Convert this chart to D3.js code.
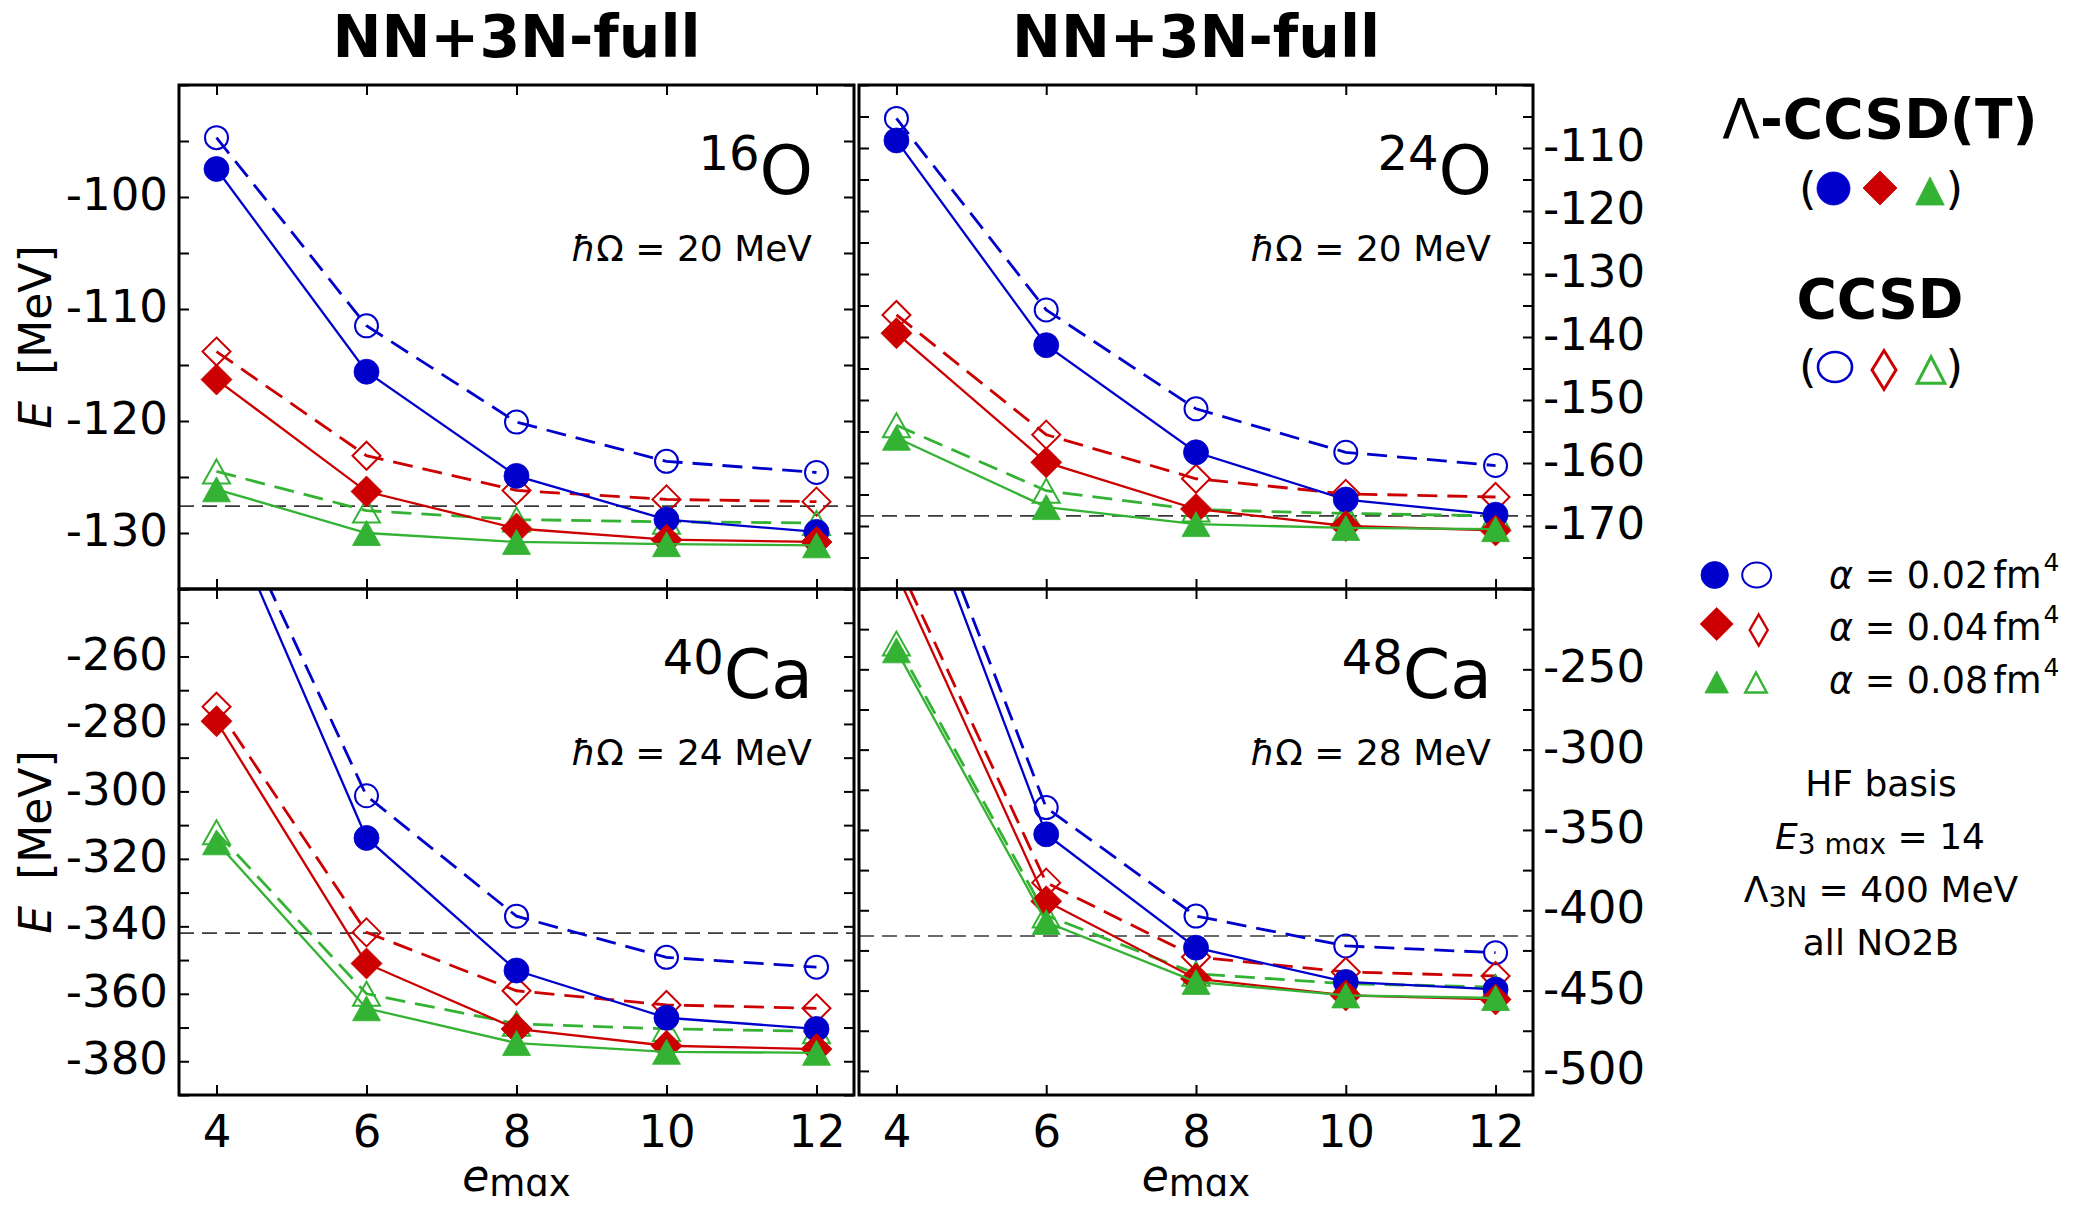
<!DOCTYPE html>
<html>
<head>
<meta charset="utf-8">
<script src="https://cdn.jsdelivr.net/npm/d3@7"></script>
<style>
  html, body { margin: 0; padding: 0; background: #fff; }
  svg { display: block; }
</style>
</head>
<body>
<svg id="chart"></svg>
<script>
// ---------------------------------------------------------------------------
// Ground-state energies E [MeV] versus e_max for three SRG flow parameters.
// "T" = Lambda-CCSD(T) (filled markers, solid lines), "C" = CCSD (open, dashed).
// ---------------------------------------------------------------------------
const emax = [4, 6, 8, 10, 12];
const xTicks = [4, 6, 8, 10, 12];

// 16O, hbar*Omega = 20 MeV
const O16_T_002 = [-97.5, -115.6, -124.9, -128.8, -129.9];
const O16_C_002 = [-94.7, -111.5, -120.1, -123.6, -124.6];
const O16_T_004 = [-116.3, -126.3, -129.6, -130.6, -130.8];
const O16_C_004 = [-113.8, -123.1, -126.2, -127.0, -127.2];
const O16_T_008 = [-126.1, -130.0, -130.8, -131.0, -131.1];
const O16_C_008 = [-124.5, -128.0, -128.8, -129.0, -129.1];
const O16_exp = -127.6;
const O16_yLabels = [-130, -120, -110, -100];

// 24O, hbar*Omega = 20 MeV
const O24_T_002 = [-108.8, -141.3, -158.3, -165.8, -168.2];
const O24_C_002 = [-105.3, -135.7, -151.4, -158.3, -160.4];
const O24_T_004 = [-139.4, -159.9, -167.3, -170.0, -170.7];
const O24_C_004 = [-136.5, -155.5, -162.5, -164.9, -165.4];
const O24_T_008 = [-156.0, -167.0, -169.7, -170.3, -170.5];
const O24_C_008 = [-154.0, -164.4, -167.4, -168.0, -168.4];
const O24_exp = -168.4;
const O24_yLabels = [-170, -160, -150, -140, -130, -120, -110];

// 40Ca, hbar*Omega = 24 MeV
const Ca40_T_002 = [-211.0, -313.8, -353.1, -367.1, -370.4];
const Ca40_C_002 = [-206.0, -301.3, -337.0, -349.2, -352.1];
const Ca40_T_004 = [-279.2, -351.0, -370.4, -375.4, -376.4];
const Ca40_C_004 = [-274.9, -341.8, -359.1, -363.3, -364.3];
const Ca40_T_008 = [-315.1, -364.3, -374.6, -377.2, -377.5];
const Ca40_C_008 = [-312.1, -360.0, -368.9, -370.4, -371.1];
const Ca40_exp = -342.0;
const Ca40_yLabels = [-380, -360, -340, -320, -300, -280, -260];

// 48Ca, hbar*Omega = 28 MeV
const Ca48_T_002 = [-105.0, -352.7, -423.3, -444.6, -449.3];
const Ca48_C_002 = [-96.0, -336.1, -403.6, -422.2, -426.4];
const Ca48_T_004 = [-190.0, -394.4, -442.6, -453.0, -455.5];
const Ca48_C_004 = [-182.0, -382.8, -429.1, -438.4, -440.9];
const Ca48_T_008 = [-238.2, -407.3, -444.6, -453.0, -454.6];
const Ca48_C_008 = [-234.0, -403.2, -439.5, -445.7, -447.8];
const Ca48_exp = -416.0;
const Ca48_yLabels = [-500, -450, -400, -350, -300, -250];

const alphaValues = ["0.02", "0.04", "0.08"];

// ---------------------------------------------------------------------------
const W = 2078, H = 1205;
const FONT = "'DejaVu Sans', 'Noto Sans', sans-serif";
const COLORS = ["#0000cc", "#cc0000", "#33b233"];

const svg = d3.select("#chart").attr("width", W).attr("height", H)
  .attr("font-family", FONT);
svg.append("rect").attr("width", W).attr("height", H).attr("fill", "#fff");

const panels = [
  { id: "p16O", mass: "16", sym: "O", hw: "20", box: [179, 854, 85, 589], dom: [-135, -90], minor: 5,
    labels: O16_yLabels, side: "left", bottom: false, exp: O16_exp,
    T: [O16_T_002, O16_T_004, O16_T_008], C: [O16_C_002, O16_C_004, O16_C_008] },
  { id: "p24O", mass: "24", sym: "O", hw: "20", box: [859, 1533, 85, 589], dom: [-180, -100], minor: 5,
    labels: O24_yLabels, side: "right", bottom: false, exp: O24_exp,
    T: [O24_T_002, O24_T_004, O24_T_008], C: [O24_C_002, O24_C_004, O24_C_008] },
  { id: "p40Ca", mass: "40", sym: "Ca", hw: "24", box: [179, 854, 589, 1095], dom: [-390, -240], minor: 10,
    labels: Ca40_yLabels, side: "left", bottom: true, exp: Ca40_exp,
    T: [Ca40_T_002, Ca40_T_004, Ca40_T_008], C: [Ca40_C_002, Ca40_C_004, Ca40_C_008] },
  { id: "p48Ca", mass: "48", sym: "Ca", hw: "28", box: [859, 1533, 589, 1095], dom: [-515, -200], minor: 25,
    labels: Ca48_yLabels, side: "right", bottom: true, exp: Ca48_exp,
    T: [Ca48_T_002, Ca48_T_004, Ca48_T_008], C: [Ca48_C_002, Ca48_C_004, Ca48_C_008] }
];

// marker shapes: 0 circle, 1 diamond, 2 triangle
function addMarker(g, kind, filled, color, cx, cy, s) {
  let el;
  if (kind === 0) {
    el = g.append("ellipse").attr("cx", cx).attr("cy", cy).attr("rx", s.rx).attr("ry", s.ry);
  } else if (kind === 1) {
    el = g.append("path").attr("transform", `translate(${cx},${cy})`)
      .attr("d", `M0,${-s.hh}L${s.hw},0L0,${s.hh}L${-s.hw},0Z`);
  } else {
    el = g.append("path").attr("transform", `translate(${cx},${cy})`)
      .attr("d", `M0,${-s.h / 2}L${s.w / 2},${s.h / 2}L${-s.w / 2},${s.h / 2}Z`);
  }
  if (filled) el.attr("fill", color).attr("stroke", color).attr("stroke-width", 0.8);
  else el.attr("fill", "none").attr("stroke", color).attr("stroke-width", s.sw || 2);
  return el;
}

const plotSizes = {
  filled: [{ rx: 12.5, ry: 12.5 }, { hw: 15.5, hh: 15.5 }, { w: 28, h: 25 }],
  open: [{ rx: 11.5, ry: 11.5, sw: 2 }, { hw: 14, hh: 14, sw: 2 }, { w: 27, h: 24, sw: 2 }]
};

const defs = svg.append("defs");

panels.forEach(p => {
  const [x0, x1, y0, y1] = p.box;
  const x = d3.scaleLinear().domain([3.5, 12.5]).range([x0, x1]);
  const y = d3.scaleLinear().domain(p.dom).range([y1, y0]);

  defs.append("clipPath").attr("id", "clip-" + p.id)
    .append("rect").attr("x", x0).attr("y", y0).attr("width", x1 - x0).attr("height", y1 - y0);

  const plot = svg.append("g").attr("clip-path", `url(#clip-${p.id})`);

  // reference energy
  plot.append("line")
    .attr("x1", x0).attr("x2", x1).attr("y1", y(p.exp)).attr("y2", y(p.exp))
    .attr("stroke", "#3a3a3a").attr("stroke-width", 1.6).attr("stroke-dasharray", "15,8");

  const line = d3.line().x((d, i) => x(emax[i])).y(d => y(d));

  // CCSD: dashed lines with open markers
  p.C.forEach((vals, k) => {
    plot.append("path").datum(vals).attr("d", line).attr("fill", "none")
      .attr("stroke", COLORS[k]).attr("stroke-width", 2.8).attr("stroke-dasharray", "20,10");
    vals.forEach((v, i) => addMarker(plot, k, false, COLORS[k], x(emax[i]), y(v), plotSizes.open[k]));
  });
  // Lambda-CCSD(T): solid lines with filled markers
  p.T.forEach((vals, k) => {
    plot.append("path").datum(vals).attr("d", line).attr("fill", "none")
      .attr("stroke", COLORS[k]).attr("stroke-width", 2.3);
    vals.forEach((v, i) => addMarker(plot, k, true, COLORS[k], x(emax[i]), y(v), plotSizes.filled[k]));
  });

  // inward ticks on all four sides
  const minorTicks = d3.range(Math.ceil(p.dom[0] / p.minor) * p.minor, p.dom[1] + 1e-9, p.minor);
  const tickStyle = s => {
    s.attr("font-size", null).attr("font-family", null);
    s.select(".domain").remove();
    s.selectAll(".tick line").attr("stroke", "#000").attr("stroke-width", 2);
  };
  svg.append("g").attr("transform", `translate(${x0},0)`)
    .call(d3.axisLeft(y).tickValues(minorTicks).tickSize(-10).tickFormat("")).call(tickStyle);
  svg.append("g").attr("transform", `translate(${x1},0)`)
    .call(d3.axisRight(y).tickValues(minorTicks).tickSize(-10).tickFormat("")).call(tickStyle);
  svg.append("g").attr("transform", `translate(0,${y1})`)
    .call(d3.axisBottom(x).tickValues(xTicks).tickSize(-10).tickFormat("")).call(tickStyle);
  svg.append("g").attr("transform", `translate(0,${y0})`)
    .call(d3.axisTop(x).tickValues(xTicks).tickSize(-10).tickFormat("")).call(tickStyle);

  // y tick labels
  const labAxis = p.side === "left"
    ? d3.axisLeft(y).tickPadding(11)
    : d3.axisRight(y).tickPadding(10);
  const labG = svg.append("g").attr("transform", `translate(${p.side === "left" ? x0 : x1},0)`)
    .call(labAxis.tickValues(p.labels).tickSize(0).tickFormat(d => String(d)));
  labG.attr("font-size", null).attr("font-family", null);
  labG.select(".domain").remove();
  labG.selectAll(".tick line").remove();
  labG.selectAll("text").attr("font-size", 45).attr("fill", "#000").attr("dy", "0.28em");

  // x tick labels and axis title on the lower row
  if (p.bottom) {
    const xg = svg.append("g").attr("transform", `translate(0,${y1})`)
      .call(d3.axisBottom(x).tickValues(xTicks).tickSize(0).tickPadding(20).tickFormat(d => String(d)));
    xg.attr("font-size", null).attr("font-family", null);
    xg.select(".domain").remove();
    xg.selectAll(".tick line").remove();
    xg.selectAll("text").attr("font-size", 45).attr("fill", "#000");

    const xt = svg.append("text").attr("x", (x0 + x1) / 2).attr("y", 1191)
      .attr("text-anchor", "middle").attr("fill", "#000");
    xt.append("tspan").attr("font-size", 44).attr("font-style", "italic").text("e");
    xt.append("tspan").attr("font-size", 37).attr("dy", 5).text("mɑx");
  }

  // y axis title on the left column
  if (p.side === "left") {
    const cy = (y0 + y1) / 2;
    const yt = svg.append("text").attr("transform", `translate(51,${cy}) rotate(-90)`)
      .attr("text-anchor", "middle").attr("font-size", 44).attr("fill", "#000");
    yt.append("tspan").attr("font-style", "italic").text("E");
    yt.append("tspan").attr("dx", 26).text("[MeV]");
  }

  // frame
  svg.append("rect").attr("x", x0).attr("y", y0).attr("width", x1 - x0).attr("height", y1 - y0)
    .attr("fill", "none").attr("stroke", "#000").attr("stroke-width", 3);

  // nucleus and oscillator frequency
  const iso = svg.append("text").attr("x", x1 - 41).attr("y", y0 + 109)
    .attr("text-anchor", "end").attr("fill", "#000");
  iso.append("tspan").attr("font-size", 48).attr("dy", -24).text(p.mass);
  iso.append("tspan").attr("font-size", 68).attr("dy", 24).text(p.sym);

  const hw = svg.append("text").attr("x", x1 - 42).attr("y", y0 + 175.5)
    .attr("text-anchor", "end").attr("font-size", 36).attr("fill", "#000");
  hw.append("tspan").attr("font-style", "italic").text("ħ");
  hw.append("tspan").text(`Ω = ${p.hw} MeV`);
});

// column titles
[[179, 854], [859, 1533]].forEach(([a, b]) => {
  svg.append("text").attr("x", (a + b) / 2).attr("y", 57).attr("text-anchor", "middle")
    .attr("font-size", 58.5).attr("font-weight", "bold").attr("fill", "#000").text("NN+3N-full");
});

// ---------------------------------------------------------------------------
// method legend
// ---------------------------------------------------------------------------
const lg = svg.append("g");
const m1 = lg.append("text").attr("x", 1880).attr("y", 138).attr("text-anchor", "middle")
  .attr("font-size", 55).attr("fill", "#000");
m1.append("tspan").text("Λ");
m1.append("tspan").attr("font-weight", "bold").text("-CCSD(T)");

lg.append("text").attr("x", 1880).attr("y", 318).attr("text-anchor", "middle")
  .attr("font-size", 55).attr("font-weight", "bold").attr("fill", "#000").text("CCSD");

function parens(yBase) {
  lg.append("text").attr("x", 1799).attr("y", yBase).attr("font-size", 45)
    .attr("fill", "#000").text("(");
  lg.append("text").attr("x", 1963).attr("y", yBase).attr("text-anchor", "end").attr("font-size", 45)
    .attr("fill", "#000").text(")");
}
parens(204);
parens(382);

addMarker(lg, 0, true, COLORS[0], 1833.5, 188.5, { rx: 16.5, ry: 16.5 });
addMarker(lg, 1, true, COLORS[1], 1880, 188, { hw: 17, hh: 17 });
addMarker(lg, 2, true, COLORS[2], 1930, 191, { w: 28.5, h: 28 });

addMarker(lg, 0, false, COLORS[0], 1835, 367, { rx: 17, ry: 15, sw: 2.6 });
addMarker(lg, 1, false, COLORS[1], 1884, 370, { hw: 12, hh: 19.5, sw: 3 });
addMarker(lg, 2, false, COLORS[2], 1931, 370, { w: 27.5, h: 26.5, sw: 3 });

// flow-parameter legend
const rowY = [575, 626, 682];
const rowBase = [587.7, 640, 692.7];
alphaValues.forEach((a, k) => {
  if (k === 0) {
    addMarker(lg, 0, true, COLORS[0], 1714.7, rowY[0], { rx: 13.7, ry: 13.5 });
    addMarker(lg, 0, false, COLORS[0], 1756.7, rowY[0], { rx: 14.5, ry: 12.5, sw: 2 });
  } else if (k === 1) {
    addMarker(lg, 1, true, COLORS[1], 1716.7, 624, { hw: 16.5, hh: 16.5 });
    addMarker(lg, 1, false, COLORS[1], 1758.7, 630, { hw: 9, hh: 15.5, sw: 2.4 });
  } else {
    addMarker(lg, 2, true, COLORS[2], 1716.7, 682, { w: 23.5, h: 22 });
    addMarker(lg, 2, false, COLORS[2], 1756, 682.5, { w: 21.5, h: 20, sw: 2.4 });
  }
  const t = lg.append("text").attr("x", 1829).attr("y", rowBase[k]).attr("font-size", 36.5).attr("fill", "#000");
  t.append("tspan").attr("font-style", "italic").text("α");
  t.append("tspan").text(` = ${a}`);
  t.append("tspan").attr("dx", 5).text("fm");
  t.append("tspan").attr("font-size", 25).attr("dy", -17).attr("dx", 2).text("4");
});

// calculation details
const info = lg.append("g").attr("fill", "#000").attr("font-size", 36);
info.append("text").attr("x", 1881).attr("y", 796).attr("text-anchor", "middle").text("HF basis");

const e3 = info.append("text").attr("x", 1880).attr("y", 849).attr("text-anchor", "middle");
e3.append("tspan").attr("font-style", "italic").text("E");
e3.append("tspan").attr("font-size", 28).attr("dy", 5).text("3 mɑx");
e3.append("tspan").attr("dy", -5).text(" = 14");

const l3 = info.append("text").attr("x", 1881).attr("y", 901.5).attr("text-anchor", "middle");
l3.append("tspan").text("Λ");
l3.append("tspan").attr("font-size", 28).attr("dy", 5).text("3N");
l3.append("tspan").attr("dy", -5).text(" = 400 MeV");

info.append("text").attr("x", 1881).attr("y", 955).attr("text-anchor", "middle").text("all NO2B");
</script>
</body>
</html>
